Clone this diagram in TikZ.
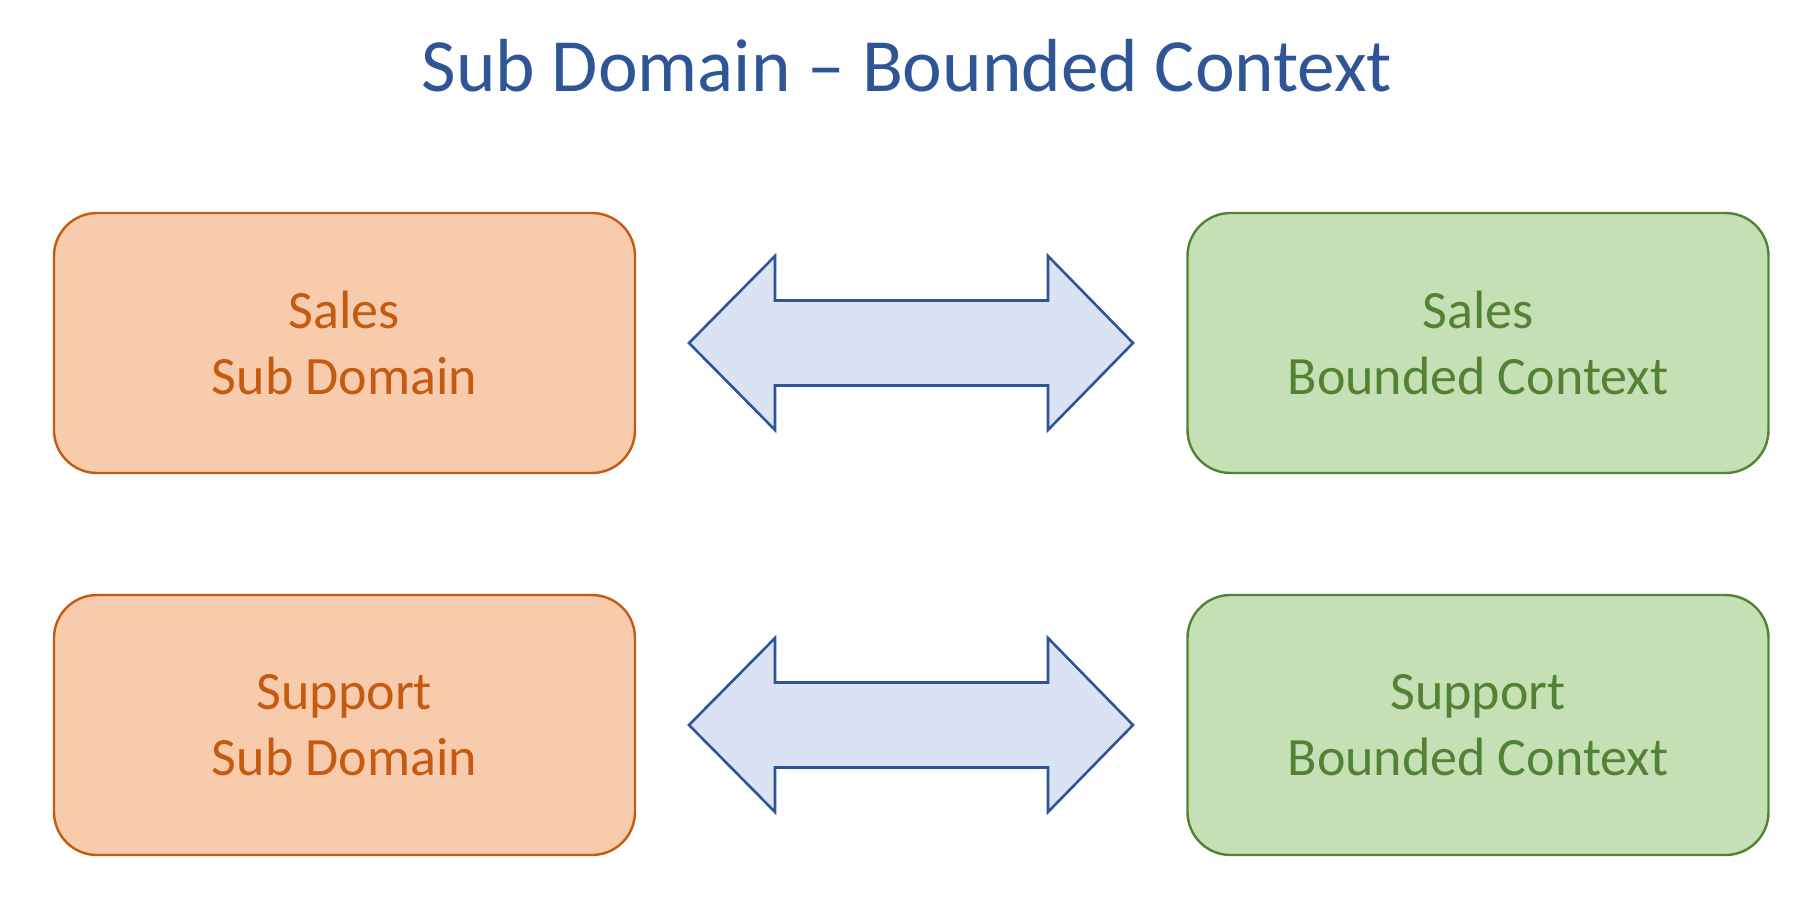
\documentclass[tikz,border=0pt]{standalone}
\usepackage{fontspec}
\setmainfont{Carlito}
\definecolor{ttl}{HTML}{2F5597}
\definecolor{orfill}{HTML}{F8CBAD}
\definecolor{ordraw}{HTML}{C55A11}
\definecolor{grfill}{HTML}{C5E0B4}
\definecolor{grdraw}{HTML}{548235}
\definecolor{arfill}{HTML}{DAE3F3}
\begin{document}
\begin{tikzpicture}[x=1pt,y=-1pt,
  box/.style={rounded corners=43pt, line width=2.4pt, minimum width=581pt, minimum height=260pt,
    align=center, inner sep=0pt, font=\fontsize{54}{65.6}\selectfont},
  sub/.style={box, fill=orfill, draw=ordraw, text=ordraw},
  bc/.style={box, fill=grfill, draw=grdraw, text=grdraw},
  dblarrow/.style={fill=arfill, draw=ttl, line width=2.6pt, line join=miter}]
\useasboundingbox (0,0) rectangle (1814,906);
\node[text=ttl, font=\fontsize{75.2}{90}\selectfont, anchor=base] (title) at (907,91) {Sub Domain -- Bounded Context};
\node[sub] (salesSD) at (344.5,343) {Sales\\Sub Domain};
\node[bc] (salesBC) at (1478,343) {Sales\\Bounded Context};
\node[sub] (suppSD) at (344.5,725) {Support\\Sub Domain};
\node[bc] (suppBC) at (1478,725) {Support\\Bounded Context};
\foreach \yc in {343,725}{
  \draw[dblarrow] (689,\yc) -- (775,\yc-87) -- (775,\yc-42.5) -- (1048,\yc-42.5) -- (1048,\yc-87)
    -- (1133,\yc) -- (1048,\yc+87) -- (1048,\yc+42.5) -- (775,\yc+42.5) -- (775,\yc+87) -- cycle;
}
\end{tikzpicture}
\end{document}
